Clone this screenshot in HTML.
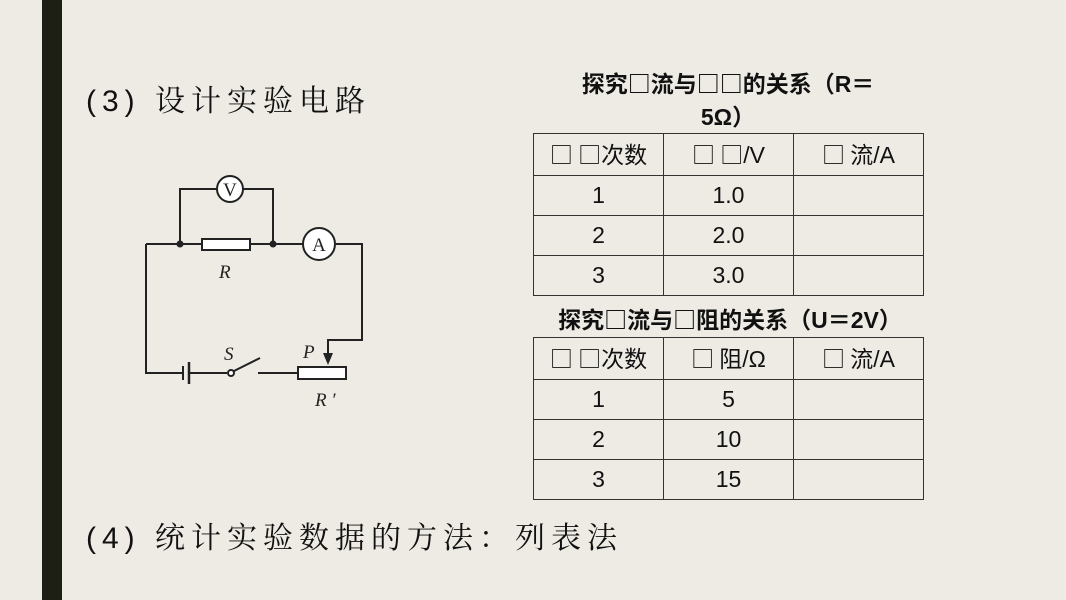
<!DOCTYPE html>
<html><head><meta charset="utf-8"><style>
body{margin:0;width:1066px;height:600px;background:#eeebe4;position:relative;overflow:hidden;font-family:"Liberation Sans","Noto Sans CJK SC",sans-serif;}
.bar{position:absolute;left:42px;top:0;width:20px;height:600px;background:#1d1f15;}
.h{position:absolute;font-family:"Liberation Sans","Noto Serif CJK SC",serif;font-size:30px;color:#111;letter-spacing:6px;white-space:nowrap;}
.t{position:absolute;font-weight:bold;font-size:23px;color:#111;text-align:center;white-space:nowrap;}
.b{font-family:"Noto Sans CJK SC",sans-serif;}
table{position:absolute;border-collapse:collapse;font-size:23px;color:#111;}
td{border:1.5px solid #333;width:129px;height:39px;text-align:center;padding:0;line-height:39px;}
</style></head><body>
<div class="bar"></div>
<div class="h" style="left:86px;top:76px;">(3) 设计实验电路</div>
<div class="h" style="left:86px;top:513px;">(4) 统计实验数据的方法：列表法</div>
<div class="t" style="left:528px;top:66px;width:400px;line-height:33px;">探究<span class="b">□</span>流与<span class="b">□□</span>的关系（R＝<br>5Ω）</div>
<table style="left:533px;top:133px;">
<tr><td><span class="b">□ □</span>次数</td><td><span class="b">□ □</span>/V</td><td><span class="b">□ </span>流/A</td></tr>
<tr><td>1</td><td>1.0</td><td></td></tr>
<tr><td>2</td><td>2.0</td><td></td></tr>
<tr><td>3</td><td>3.0</td><td></td></tr>
</table>
<div class="t" style="left:515px;top:301px;width:430px;">探究<span class="b">□</span>流与<span class="b">□</span>阻的关系（U＝2V）</div>
<table style="left:533px;top:337px;">
<tr><td><span class="b">□ □</span>次数</td><td><span class="b">□ </span>阻/Ω</td><td><span class="b">□ </span>流/A</td></tr>
<tr><td>1</td><td>5</td><td></td></tr>
<tr><td>2</td><td>10</td><td></td></tr>
<tr><td>3</td><td>15</td><td></td></tr>
</table>
<svg style="position:absolute;left:130px;top:170px" width="250" height="240" viewBox="0 0 250 240">
<g stroke="#222" stroke-width="2" fill="none">
<polyline points="50,74 50,19 87,19"/>
<polyline points="113,19 143,19 143,74"/>
<line x1="16" y1="74" x2="72" y2="74"/>
<line x1="120" y1="74" x2="173" y2="74"/>
<polyline points="206,74 232,74 232,170 198,170 198,183"/>
<polyline points="16,74 16,203 52,203"/>
<line x1="60" y1="203" x2="97" y2="203"/>
<line x1="104" y1="201" x2="130" y2="188"/>
<line x1="128" y1="203" x2="168" y2="203"/>
<rect x="72" y="69" width="48" height="11" fill="#fff"/>
<rect x="168" y="197" width="48" height="12" fill="#fff"/>
<circle cx="100" cy="19" r="13" fill="#fff"/>
<circle cx="189" cy="74" r="16" fill="#fff"/>
<circle cx="101" cy="203" r="3" fill="#fff"/>
<line x1="53" y1="196" x2="53" y2="210"/>
<line x1="59" y1="192" x2="59" y2="214" stroke-width="2.5"/>
</g>
<polygon points="193,183 203,183 198,195" fill="#222"/>
<circle cx="50" cy="74" r="3.5" fill="#222"/><circle cx="143" cy="74" r="3.5" fill="#222"/>
<g font-family="Liberation Serif,serif" fill="#222">
<text x="100" y="26" font-size="19" text-anchor="middle">V</text>
<text x="189" y="81" font-size="19" text-anchor="middle">A</text>
<g font-style="italic" font-size="19">
<text x="89" y="108">R</text><text x="94" y="190">S</text><text x="173" y="188">P</text><text x="185" y="236">R ′</text>
</g></g>
</svg>
</body></html>
